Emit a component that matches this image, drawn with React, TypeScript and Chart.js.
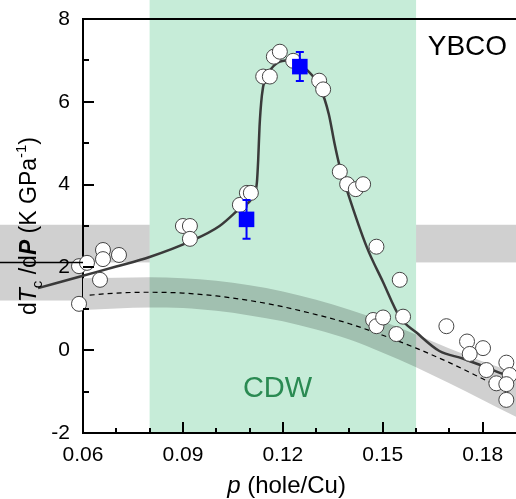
import React, { useEffect, useRef } from 'react';
import { Chart, registerables } from 'chart.js';

Chart.register(...registerables);

const FONT = '"Liberation Sans", Arial, Helvetica, sans-serif';

// ---- axes ----
const xMin = 0.06;
const xMax = 0.19;
const yMin = -2;
const yMax = 8;
const xTickValues = [0.06, 0.07, 0.08, 0.09, 0.1, 0.11, 0.12, 0.13, 0.14, 0.15, 0.16, 0.17, 0.18];
const xTickLabels = ['0.06', '', '', '0.09', '', '', '0.12', '', '', '0.15', '', '', '0.18'];
const yTickValues = [-2, -1, 0, 1, 2, 3, 4, 5, 6, 7, 8];
const yTickLabels = ['-2', '', '0', '', '2', '', '4', '', '6', '', '8'];

// ---- shaded regions ----
const cdwStart = 0.08;
const cdwEnd = 0.16;
const grayBandLow = 2.12;
const grayBandHigh = 3.03;
const grayOuterLow = 1.2;
const markLineValue = 2.12;

// ---- measured dTc/dP (open circles) ----
const sampleP = [0.0588, 0.0612, 0.066, 0.066, 0.0708, 0.0651, 0.0588, 0.09, 0.0921, 0.0921, 0.1071, 0.1092, 0.1104,
  0.1141, 0.1161, 0.1173, 0.1191, 0.1231, 0.1309, 0.1321, 0.1371, 0.1393, 0.1419, 0.1441, 0.1481, 0.1551, 0.1471,
  0.1481, 0.1501, 0.1541, 0.1561, 0.1691, 0.1753, 0.1801, 0.1761, 0.1811, 0.1871, 0.1881, 0.1841, 0.1871, 0.1871];
const sampleSlope = [2.03, 2.11, 2.42, 2.2, 2.3, 1.7, 1.12, 3.0, 3.0, 2.69, 3.51, 3.8, 3.8,
  6.61, 6.61, 7.09, 7.21, 6.99, 6.51, 6.3, 4.31, 4.01, 3.89, 4.01, 2.5, 1.7, 0.73,
  0.58, 0.79, 0.39, 0.81, 0.58, 0.21, 0.05, -0.09, -0.48, -0.3, -0.6, -0.8, -0.82, -1.2];

// ---- blue squares with error bars ----
const blueP = [0.1091, 0.1251];
const blueSlope = [3.16, 6.85];
const blueErr = [0.47, 0.35];

// ---- guide curve (solid) ----
const fitP = [0.0465, 0.06, 0.07, 0.08, 0.092, 0.101, 0.1071, 0.111, 0.1122, 0.1126, 0.113, 0.1137, 0.1146, 0.1165,
  0.1191, 0.123, 0.1272, 0.1311, 0.1338, 0.1355, 0.1371, 0.1395, 0.1452, 0.15, 0.1551, 0.1602, 0.167, 0.174, 0.18,
  0.186, 0.19];
const fitSlope = [1.5, 1.8, 2.02, 2.25, 2.62, 3.0, 3.43, 3.71, 4.04, 4.6, 5.4, 6.15, 6.55, 6.8,
  6.97, 7.01, 6.77, 6.36, 5.7, 5.0, 4.43, 3.8, 2.49, 1.66, 0.8, 0.42, -0.02, -0.2, -0.38,
  -0.57, -0.68];

// ---- background expectation (dashed) ----
const dashP = [0.062, 0.07, 0.08, 0.09, 0.1, 0.11, 0.12, 0.13, 0.14, 0.15, 0.16, 0.17, 0.18, 0.182];
const dashSlope = [1.33, 1.38, 1.4, 1.38, 1.31, 1.2, 1.05, 0.86, 0.64, 0.36, 0.05, -0.3, -0.69, -0.77];

// ---- uncertainty band ----
const bandP = [0.055, 0.06, 0.07, 0.08, 0.09, 0.1, 0.11, 0.12, 0.13, 0.14, 0.15, 0.16, 0.17, 0.18, 0.19, 0.195];
const bandHigh = [1.72, 1.74, 1.75, 1.76, 1.74, 1.68, 1.57, 1.42, 1.22, 0.98, 0.7, 0.38, 0.04, -0.27, -0.55, -0.7];
const bandLow = [0.96, 0.97, 1.01, 1.03, 1.02, 0.95, 0.84, 0.7, 0.5, 0.26, -0.06, -0.41, -0.8, -1.2, -1.61, -1.82];

// ---- labels ----
const ybcoLabel = { text: 'YBCO', x: 0.1635, y: 7.13 };
const cdwLabel = { text: 'CDW', x: 0.108, y: -1.13 };

const GREEN_BG = '#c6ecd8';
const GRAY = '#d0d0d0';
const CDW_GREEN = '#2a8a52';

const pts = (xs: number[], ys: number[]) => xs.map((x, i) => ({ x, y: ys[i] }));

type Run = { text: string; font: string; dy: number };

function drawRuns(ctx: CanvasRenderingContext2D, runs: Run[], cx: number) {
  let total = 0;
  const widths = runs.map((r) => {
    ctx.font = r.font;
    const w = ctx.measureText(r.text).width;
    total += w;
    return w;
  });
  let x = cx - total / 2;
  runs.forEach((r, i) => {
    ctx.font = r.font;
    ctx.fillText(r.text, x, r.dy);
    x += widths[i];
  });
}

const decorPlugin = {
  id: 'decor',
  beforeDraw(chart: any) {
    const { ctx, chartArea: a } = chart;
    const x = chart.scales.x;
    const y = chart.scales.y;
    const yHi = y.getPixelForValue(grayBandHigh);
    const yLo = y.getPixelForValue(grayBandLow);
    const yOuter = y.getPixelForValue(grayOuterLow);
    const xs = x.getPixelForValue(cdwStart);
    const xe = x.getPixelForValue(cdwEnd);
    ctx.save();
    ctx.fillStyle = GRAY;
    ctx.fillRect(0, yHi, a.left, yOuter - yHi);
    ctx.fillRect(a.left, yHi, xs - a.left, yLo - yHi);
    ctx.fillRect(xe, yHi, a.right - xe, yLo - yHi);
    ctx.restore();
  },
  afterDatasetDraw(chart: any, args: any) {
    if (args.index !== 0) return;
    const { ctx, chartArea: a } = chart;
    const x = chart.scales.x;
    const xs = x.getPixelForValue(cdwStart);
    const xe = x.getPixelForValue(cdwEnd);
    ctx.save();
    ctx.globalCompositeOperation = 'multiply';
    ctx.fillStyle = GREEN_BG;
    ctx.fillRect(xs, 0, xe - xs, a.bottom);
    ctx.restore();
  },
  afterDatasetsDraw(chart: any) {
    const { ctx } = chart;
    const x = chart.scales.x;
    const y = chart.scales.y;
    ctx.save();
    ctx.strokeStyle = '#0000ff';
    ctx.lineWidth = 2;
    blueP.forEach((p, i) => {
      const px = x.getPixelForValue(p);
      const top = y.getPixelForValue(blueSlope[i] + blueErr[i]);
      const bot = y.getPixelForValue(blueSlope[i] - blueErr[i]);
      ctx.beginPath();
      ctx.moveTo(px, top);
      ctx.lineTo(px, bot);
      ctx.moveTo(px - 4, top);
      ctx.lineTo(px + 4, top);
      ctx.moveTo(px - 4, bot);
      ctx.lineTo(px + 4, bot);
      ctx.stroke();
    });
    ctx.restore();
  },
  afterDraw(chart: any) {
    const { ctx, chartArea: a } = chart;
    const x = chart.scales.x;
    const y = chart.scales.y;
    ctx.save();
    ctx.strokeStyle = '#000';
    ctx.lineWidth = 2;
    // top frame line
    ctx.beginPath();
    ctx.moveTo(a.left, a.top);
    ctx.lineTo(a.right, a.top);
    ctx.stroke();
    // inward ticks
    ctx.beginPath();
    xTickValues.forEach((v, i) => {
      const px = Math.round(x.getPixelForValue(v));
      const len = xTickLabels[i] ? 11 : 5;
      ctx.moveTo(px, a.bottom);
      ctx.lineTo(px, a.bottom - len);
    });
    yTickValues.forEach((v, i) => {
      const py = Math.round(y.getPixelForValue(v));
      const len = yTickLabels[i] ? 11 : 6;
      ctx.moveTo(a.left, py);
      ctx.lineTo(a.left + len, py);
    });
    ctx.stroke();
    // short mark line left of the axis
    ctx.lineWidth = 1.5;
    ctx.beginPath();
    const my = y.getPixelForValue(markLineValue);
    ctx.moveTo(0, my);
    ctx.lineTo(a.left, my);
    ctx.stroke();

    // annotations
    ctx.textBaseline = 'alphabetic';
    ctx.textAlign = 'left';
    ctx.fillStyle = '#000';
    ctx.font = `28px ${FONT}`;
    ctx.fillText(ybcoLabel.text, x.getPixelForValue(ybcoLabel.x), y.getPixelForValue(ybcoLabel.y));
    ctx.fillStyle = CDW_GREEN;
    ctx.font = `29px ${FONT}`;
    ctx.fillText(cdwLabel.text, x.getPixelForValue(cdwLabel.x), y.getPixelForValue(cdwLabel.y));

    // x title
    ctx.fillStyle = '#000';
    ctx.save();
    ctx.translate(0, 493);
    drawRuns(ctx, [
      { text: 'p', font: `italic 24px ${FONT}`, dy: 0 },
      { text: ' (hole/Cu)', font: `24px ${FONT}`, dy: 0 },
    ], a.left + (a.right - a.left) * 0.47);
    ctx.restore();

    // y title (rotated)
    ctx.save();
    ctx.translate(36, (a.top + a.bottom) / 2);
    ctx.rotate(-Math.PI / 2);
    drawRuns(ctx, [
      { text: 'd', font: `23px ${FONT}`, dy: 0 },
      { text: 'T', font: `italic 23px ${FONT}`, dy: 0 },
      { text: 'c', font: `15px ${FONT}`, dy: 6 },
      { text: ' /d', font: `23px ${FONT}`, dy: 0 },
      { text: 'P', font: `italic bold 23px ${FONT}`, dy: 0 },
      { text: ' (K GPa', font: `23px ${FONT}`, dy: 0 },
      { text: '-1', font: `15px ${FONT}`, dy: -10 },
      { text: ')', font: `23px ${FONT}`, dy: 0 },
    ], 0);
    ctx.restore();
    ctx.restore();
  },
};

export default function App() {
  const ref = useRef<HTMLCanvasElement>(null);
  useEffect(() => {
    document.body.style.margin = '0';
    const canvas = ref.current;
    if (!canvas) return;
    const chart = new Chart(canvas, {
      type: 'line',
      data: {
        datasets: [
          {
            data: pts(bandP, bandHigh),
            fill: '+1',
            backgroundColor: GRAY,
            borderWidth: 0,
            pointRadius: 0,
            cubicInterpolationMode: 'monotone',
            order: 10,
          },
          {
            data: pts(bandP, bandLow),
            fill: false,
            borderWidth: 0,
            borderColor: 'rgba(0,0,0,0)',
            pointRadius: 0,
            cubicInterpolationMode: 'monotone',
            order: 9,
          },
          {
            data: pts(dashP, dashSlope),
            borderColor: '#000',
            borderWidth: 1.2,
            borderDash: [5, 4],
            pointRadius: 0,
            fill: false,
            cubicInterpolationMode: 'monotone',
            order: 8,
          },
          {
            data: pts(fitP, fitSlope),
            borderColor: '#3a3a3a',
            borderWidth: 2.5,
            pointRadius: 0,
            fill: false,
            cubicInterpolationMode: 'monotone',
            clip: { left: 60, top: 0, right: 0, bottom: 0 },
            order: 7,
          },
          {
            data: pts(sampleP, sampleSlope),
            showLine: false,
            pointRadius: 7.5,
            pointBackgroundColor: '#ffffff',
            pointBorderColor: '#444444',
            pointBorderWidth: 1,
            clip: false,
            order: 6,
          },
          {
            data: pts(blueP, blueSlope),
            showLine: false,
            pointStyle: 'rect',
            pointRadius: 11,
            pointBackgroundColor: '#0000ff',
            pointBorderColor: '#0000ff',
            pointBorderWidth: 0,
            order: 5,
          },
        ] as any,
      },
      options: {
        responsive: false,
        animation: false,
        events: [],
        layout: { autoPadding: false, padding: { top: 19, right: 0, left: 0, bottom: 0 } },
        plugins: {
          legend: { display: false },
          tooltip: { enabled: false },
        },
        scales: {
          x: {
            type: 'linear',
            min: xMin,
            max: xMax,
            afterBuildTicks: (s: any) => {
              s.ticks = xTickValues.map((v) => ({ value: v }));
            },
            afterFit: (s: any) => {
              s.height = 66;
              s.paddingLeft = 0;
              s.paddingRight = 0;
              s.paddingTop = 0;
              s.paddingBottom = 0;
            },
            grid: { display: false, drawTicks: false },
            border: { display: true, color: '#000', width: 2 },
            ticks: {
              autoSkip: false,
              maxRotation: 0,
              padding: 10,
              color: '#000',
              font: { family: FONT, size: 21 },
              callback: (_v: any, i: number) => xTickLabels[i],
            },
          },
          y: {
            type: 'linear',
            min: yMin,
            max: yMax,
            afterBuildTicks: (s: any) => {
              s.ticks = yTickValues.map((v) => ({ value: v }));
            },
            afterFit: (s: any) => {
              s.width = 83;
              s.paddingLeft = 0;
              s.paddingRight = 0;
              s.paddingTop = 0;
              s.paddingBottom = 0;
            },
            grid: { display: false, drawTicks: false },
            border: { display: true, color: '#000', width: 2 },
            ticks: {
              autoSkip: false,
              padding: 13,
              color: '#000',
              font: { family: FONT, size: 21 },
              callback: (_v: any, i: number) => yTickLabels[i],
            },
          },
        },
      } as any,
      plugins: [decorPlugin],
    });
    return () => chart.destroy();
  }, []);
  return (
    <div style={{ width: 516, height: 499 }}>
      <canvas ref={ref} width={516} height={499} style={{ display: 'block' }} />
    </div>
  );
}
